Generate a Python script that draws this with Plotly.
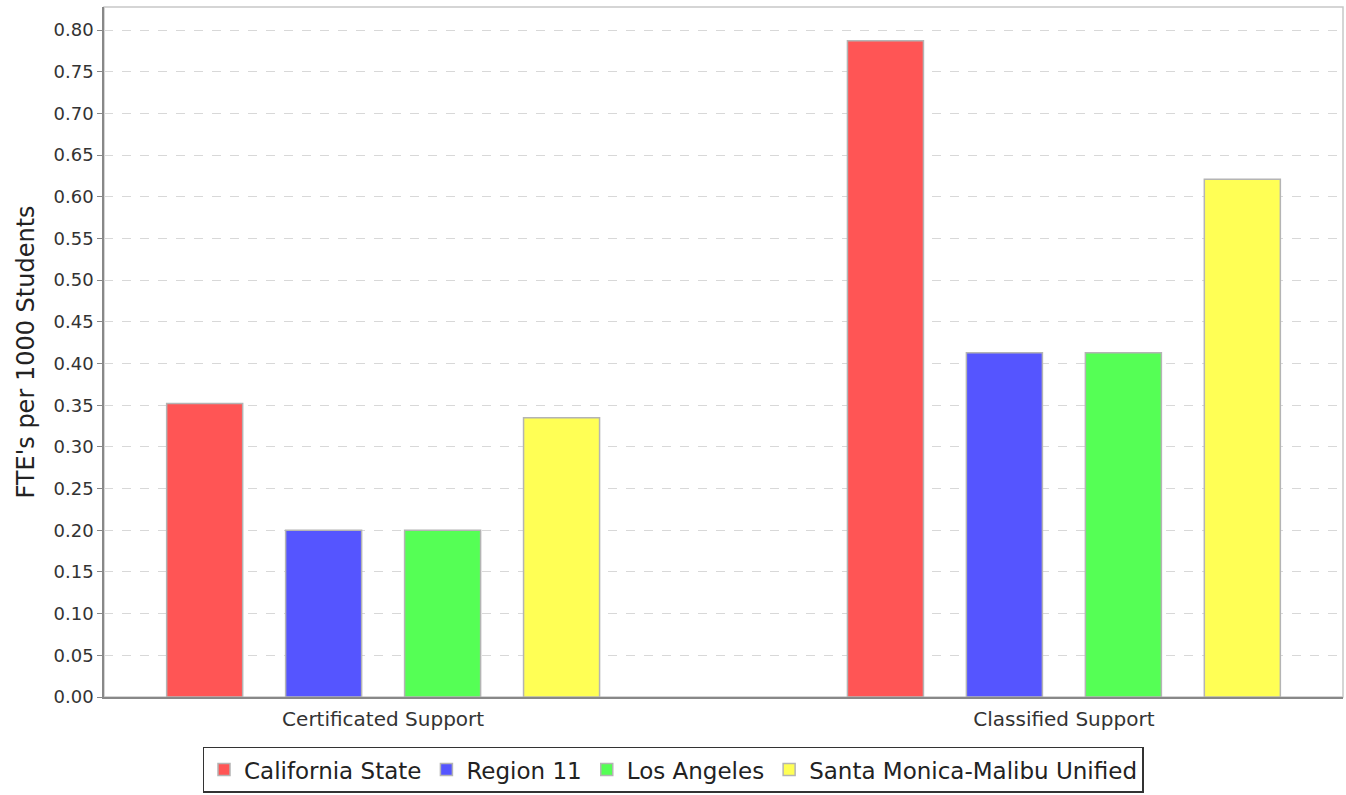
import plotly.graph_objects as go

categories = ["Certificated Support", "Classified Support"]
series_names = ["California State", "Region 11", "Los Angeles", "Santa Monica-Malibu Unified"]
california_state = [0.352, 0.787]
region_11 = [0.200, 0.413]
los_angeles = [0.200, 0.413]
santa_monica = [0.335, 0.621]
tick_vals = [round(i * 0.05, 2) for i in range(17)]
tick_text = [f"{v:.2f}" for v in tick_vals]

colors = ["#FF5555", "#5555FF", "#55FF55", "#FFFF55"]
all_values = [california_state, region_11, los_angeles, santa_monica]

fig = go.Figure()
for name, vals, col in zip(series_names, all_values, colors):
    fig.add_trace(go.Bar(
        x=categories, y=vals, name=name,
        marker=dict(color=col, line=dict(color="#B4B4B4", width=1.5)),
        hoverinfo="skip",
    ))

fig.update_layout(
    width=1346, height=795,
    barmode="group", bargap=0.301, bargroupgap=0.361,
    paper_bgcolor="white", plot_bgcolor="white",
    margin=dict(l=104, r=3, t=7, b=98, autoexpand=False),
    font=dict(family="DejaVu Sans", color="#333333"),
    showlegend=True,
    legend=dict(
        orientation="h", xref="container", yref="container",
        x=0.5, xanchor="center", y=0.003, yanchor="bottom",
        bordercolor="#333333", borderwidth=1.5,
        font=dict(family="DejaVu Sans", size=23, color="#222222"),
        itemwidth=30, tracegroupgap=0,
    ),
    shapes=[dict(type="rect", xref="paper", yref="paper", x0=0, x1=1, y0=0, y1=1,
                 line=dict(color="#C8C8C8", width=1.5), layer="below")],
)
fig.update_xaxes(
    range=[-0.41, 1.41], showgrid=False, showline=True, linecolor="#888888", linewidth=1.5,
    ticks="", tickfont=dict(family="DejaVu Sans", size=20, color="#333333"),
    ticklabelstandoff=3,
    fixedrange=True, automargin=False,
)
fig.update_yaxes(
    range=[0, 0.8276], tickvals=tick_vals, ticktext=tick_text,
    showgrid=True, gridcolor="#D8D8D8", griddash="dash", gridwidth=1,
    showline=True, linecolor="#888888", linewidth=1.5,
    ticks="outside", ticklen=5, tickcolor="#888888",
    tickfont=dict(family="DejaVu Sans", size=18, color="#333333"),
    title=dict(text="FTE's per 1000 Students", font=dict(family="DejaVu Sans", size=24, color="#222222"), standoff=12),
    zeroline=False, fixedrange=True, automargin=False,
)

fig.write_html(
    "out.html",
    config={"displayModeBar": False, "staticPlot": False},
    post_script="document.body.style.margin='0';document.body.style.overflow='hidden';",
)
